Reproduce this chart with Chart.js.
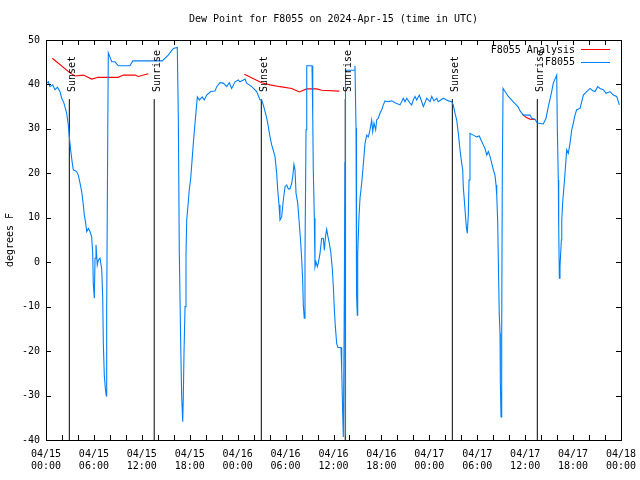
<!DOCTYPE html>
<html>
<head>
<meta charset="utf-8">
<title>Dew Point for F8055</title>
<script src="https://cdn.jsdelivr.net/npm/chart.js@4.4.1/dist/chart.umd.min.js"></script>
<style>
  html, body { margin: 0; padding: 0; background: #ffffff; }
  #wrap { width: 640px; height: 480px; }
</style>
</head>
<body>
<div id="wrap"><canvas id="dew-chart" width="640" height="480"></canvas></div>
<script>
// hours since 2024-04-15 00:00 UTC
const stationHours = [
  0.09, 0.29, 0.50, 0.84, 1.13, 1.42, 1.75, 1.97, 2.25, 2.59,
  2.79, 2.92, 3.09, 3.29, 3.42, 3.84, 4.04, 4.26, 4.47, 4.67,
  4.80, 4.97, 5.10, 5.30, 5.51, 5.72, 5.85, 5.92, 6.05, 6.14,
  6.26, 6.42, 6.55, 6.76, 6.97, 7.10, 7.18, 7.30, 7.43, 7.55,
  7.60, 7.73, 7.80, 8.23, 8.64, 9.05, 10.52, 10.86, 14.56, 15.31,
  15.94, 16.44, 16.57, 16.69, 16.87, 16.99, 17.12, 17.19, 17.28, 17.41,
  17.53, 17.62, 17.82, 17.94, 18.12, 18.45, 18.66, 18.95, 19.20, 19.57,
  19.82, 20.12, 20.62, 21.16, 21.38, 21.79, 22.20, 22.63, 22.95, 23.25,
  23.67, 24.08, 24.29, 24.71, 24.92, 25.13, 25.76, 26.38, 26.80, 27.01,
  27.21, 27.64, 27.84, 28.05, 28.26, 28.46, 28.68, 28.89, 29.01, 29.18,
  29.30, 29.51, 29.72, 29.93, 30.14, 30.34, 30.55, 30.77, 30.89, 31.05,
  31.18, 31.31, 31.52, 31.68, 31.89, 32.02, 32.14, 32.22, 32.34, 32.43,
  32.52, 32.56, 32.65, 33.31, 33.40, 33.47, 33.60, 33.68, 33.81, 33.97,
  34.10, 34.31, 34.52, 34.72, 34.85, 35.02, 35.15, 35.27, 35.44, 35.65,
  35.85, 35.98, 36.10, 36.23, 36.40, 36.56, 36.94, 37.03, 37.15, 37.23,
  37.32, 37.44, 37.48, 37.53, 38.57, 38.69, 38.82, 38.86, 38.91, 38.98,
  39.03, 39.19, 39.32, 39.53, 39.66, 39.95, 40.16, 40.36, 40.57, 40.78,
  40.91, 41.07, 41.28, 41.41, 41.61, 41.82, 42.04, 42.24, 42.45, 42.86,
  43.29, 43.70, 44.33, 44.74, 44.95, 45.17, 45.58, 45.79, 45.99, 46.21,
  46.42, 46.75, 47.05, 47.25, 47.67, 48.09, 48.30, 48.59, 48.92, 49.12,
  49.75, 50.38, 50.80, 51.00, 51.22, 51.43, 51.63, 51.84, 52.05, 52.18,
  52.25, 52.38, 52.50, 52.63, 52.75, 52.88, 52.97, 53.09, 53.51, 53.93,
  54.26, 54.47, 54.76, 54.97, 55.19, 55.39, 55.60, 55.81, 56.01, 56.22,
  56.35, 56.44, 56.56, 56.64, 56.76, 56.85, 56.89, 56.98, 57.06, 57.14,
  57.23, 57.48, 57.89, 58.52, 59.14, 59.35, 59.77, 60.61, 60.82, 61.23,
  61.52, 62.27, 62.61, 62.90, 63.32, 63.52, 63.95, 64.03, 64.15, 64.20,
  64.28, 64.36, 64.53, 64.58, 64.70, 64.86, 64.99, 65.20, 65.40, 65.62,
  65.83, 66.03, 66.24, 66.45, 66.87, 67.08, 67.28, 67.71, 68.12, 68.46,
  68.75, 69.08, 69.37, 69.79, 70.12, 70.62, 71.04, 71.46, 71.79
];
const stationDew = [
  40.3, 40.6, 39.5, 39.9, 38.8, 39.4, 38.4, 36.9, 35.8, 33.5,
  30.9, 28.2, 25.2, 22.3, 20.8, 20.4, 19.6, 17.8, 15.9, 12.9,
  10.6, 8.8, 6.9, 7.6, 6.9, 5.7, 2.0, -4.7, -8.1, 0.9,
  3.9, -0.6, 0.5, 0.9, -1.4, -7.8, -18.3, -25.4, -28.4, -30.1,
  -10.8, 28.2, 47.1, 45.1, 45.1, 44.2, 44.2, 45.3, 45.3, 46.6,
  48.1, 48.3, 32.7, 2.4, -18.6, -30.3, -35.9, -30.6, -20.5, -10.0,
  1.6, 9.5, 13.6, 16.3, 18.9, 26.8, 31.3, 37.2, 36.5, 37.2,
  36.5, 37.6, 38.4, 38.5, 39.5, 40.4, 40.3, 39.5, 40.4, 39.1,
  40.6, 41.0, 40.6, 41.0, 41.2, 40.3, 39.5, 38.4, 36.5, 36.5,
  35.4, 32.4, 30.5, 28.2, 26.4, 25.2, 23.7, 20.0, 16.3, 12.9,
  9.5, 10.2, 14.0, 17.0, 17.4, 16.5, 16.5, 17.8, 19.2, 22.0,
  20.8, 15.5, 13.3, 9.5, 4.6, 0.5, -4.0, -9.6, -12.6, 1.6,
  20.8, 29.8, 44.2, 44.2, 32.7, 20.8, 9.9, -1.0, 0.1, -1.0,
  -0.2, 2.0, 5.4, 5.4, 2.7, 6.1, 7.4, 6.1, 4.6, 2.4,
  -1.4, -5.5, -10.4, -14.5, -18.3, -19.2, -19.2, -24.3, -34.0, -39.3,
  -18.6, 22.5, -39.0, 43.2, 43.2, 44.2, 30.2, 2.0, -7.0, -11.9,
  2.0, 10.2, 14.4, 17.8, 20.4, 26.8, 28.6, 28.2, 29.8, 32.0,
  29.4, 31.3, 29.8, 32.0, 32.4, 33.5, 34.3, 35.4, 36.3, 36.1,
  36.3, 35.9, 35.4, 36.9, 36.1, 36.9, 35.8, 35.4, 36.5, 37.3,
  36.5, 37.6, 36.1, 35.0, 36.9, 36.1, 37.3, 36.3, 36.9, 36.1,
  36.9, 36.3, 36.1, 35.4, 33.5, 32.0, 29.0, 25.3, 22.3, 20.8,
  17.0, 14.0, 11.0, 8.0, 6.5, 10.6, 18.5, 29.0, 28.6, 28.2,
  28.4, 27.5, 26.4, 25.6, 24.1, 24.9, 23.8, 22.3, 20.8, 19.6,
  17.4, 15.1, 9.1, 0.1, -11.9, -16.0, -26.9, -34.8, -16.0, 20.8,
  39.1, 38.4, 37.3, 36.1, 34.9, 34.1, 33.1, 33.1, 32.4, 32.2,
  31.3, 31.1, 32.4, 35.0, 38.4, 40.3, 42.1, 29.8, 18.5, 7.6,
  -3.6, -1.0, 5.0, 9.5, 13.6, 17.0, 20.0, 25.3, 24.5, 26.8,
  29.8, 31.3, 33.1, 34.3, 34.6, 36.1, 37.6, 38.4, 39.1, 38.6,
  38.4, 39.5, 39.1, 38.8, 38.0, 38.4, 37.6, 37.3, 35.4
];

// analysis: null marks a gap between runs
const analysisHours = [
  0.79, 3.01, 3.63, 4.67, 5.72, 6.55, 9.05, 9.68, 11.14, 11.56, 12.81,
  18.0,
  24.83, 27.01, 28.05, 29.30, 30.77, 31.72, 32.65, 33.90, 34.52, 36.73,
  48.0,
  59.65, 60.10, 60.60, 61.20
];
const analysisDew = [
  45.9, 42.6, 41.9, 42.1, 41.2, 41.6, 41.6, 42.1, 42.1, 41.8, 42.4,
  null,
  42.3, 40.4, 39.9, 39.5, 39.1, 38.3, 39.0, 39.0, 38.7, 38.5,
  null,
  33.3, 32.6, 32.2, 32.1
];

const sunsetHours = [2.92, 26.96, 50.88];
const sunriseHours = [13.55, 37.47, 61.52];
const sunLineTop = 36.7;

// one label every 6 hours, minor ticks every 2
const xTickLabels = [
  ['04/15', '00:00'], ['04/15', '06:00'], ['04/15', '12:00'], ['04/15', '18:00'],
  ['04/16', '00:00'], ['04/16', '06:00'], ['04/16', '12:00'], ['04/16', '18:00'],
  ['04/17', '00:00'], ['04/17', '06:00'], ['04/17', '12:00'], ['04/17', '18:00'],
  ['04/18', '00:00']
];
const yTickValues = [-40, -30, -20, -10, 0, 10, 20, 30, 40, 50];

const FONT = '10px "DejaVu Sans Mono", "Liberation Mono", monospace';
Chart.defaults.font.family = '"DejaVu Sans Mono", "Liberation Mono", monospace';
Chart.defaults.font.size = 10;
Chart.defaults.color = '#000000';

const toPoints = (xs, ys) => xs.map((h, i) => ({ x: h, y: ys[i] }));

const sunLineSets = [...sunsetHours, ...sunriseHours].map(h => ({
  label: 'sun',
  data: [{ x: h, y: -40 }, { x: h, y: sunLineTop }],
  borderColor: '#000000',
  borderWidth: 1,
  pointRadius: 0
}));

// gnuplot-ish frame, inward ticks, x labels, sun labels, key and title
const gnuplotDecor = {
  id: 'gnuplotDecor',
  afterDatasetsDraw(chart) {
    const { ctx, chartArea: a, scales: { x, y } } = chart;
    ctx.save();
    ctx.strokeStyle = '#000000';
    ctx.lineWidth = 1;
    ctx.strokeRect(Math.round(a.left) + 0.5, Math.round(a.top) + 0.5,
      Math.round(a.right - a.left), Math.round(a.bottom - a.top));

    ctx.beginPath();
    for (let h = 0; h <= 72; h += 2) {
      const px = Math.round(x.getPixelForValue(h)) + 0.5;
      ctx.moveTo(px, a.bottom); ctx.lineTo(px, a.bottom - 5);
      ctx.moveTo(px, a.top); ctx.lineTo(px, a.top + 5);
    }
    yTickValues.forEach(v => {
      const py = Math.round(y.getPixelForValue(v)) + 0.5;
      ctx.moveTo(a.left, py); ctx.lineTo(a.left + 5, py);
      ctx.moveTo(a.right, py); ctx.lineTo(a.right - 5, py);
    });
    ctx.stroke();

    ctx.fillStyle = '#000000';
    ctx.font = FONT;

    // x tick labels, two lines each
    ctx.textAlign = 'center';
    ctx.textBaseline = 'middle';
    xTickLabels.forEach((lines, i) => {
      const px = x.getPixelForValue(i * 6);
      ctx.fillText(lines[0], px, a.bottom + 14);
      ctx.fillText(lines[1], px, a.bottom + 26);
    });

    ctx.textAlign = 'left';
    ctx.textBaseline = 'alphabetic';
    const topPx = y.getPixelForValue(sunLineTop);
    const sunLabel = (h, txt) => {
      ctx.save();
      ctx.translate(x.getPixelForValue(h) + 5.5, topPx - 7);
      ctx.rotate(-Math.PI / 2);
      ctx.fillText(txt, 0, 0);
      ctx.restore();
    };
    sunsetHours.forEach(h => sunLabel(h, 'Sunset'));
    sunriseHours.forEach(h => sunLabel(h, 'Sunrise'));

    // key
    ctx.textAlign = 'right';
    ctx.textBaseline = 'middle';
    ctx.fillText('F8055 Analysis', 575, 50);
    ctx.fillText('F8055', 575, 62.5);
    ctx.strokeStyle = '#ff0000';
    ctx.beginPath(); ctx.moveTo(581, 49.5); ctx.lineTo(610, 49.5); ctx.stroke();
    ctx.strokeStyle = '#0080ff';
    ctx.beginPath(); ctx.moveTo(581, 62.5); ctx.lineTo(610, 62.5); ctx.stroke();

    // title centred over the plot
    ctx.textAlign = 'center';
    ctx.fillText('Dew Point for F8055 on 2024-Apr-15 (time in UTC)', (a.left + a.right) / 2, 19);
    ctx.restore();
  }
};

new Chart(document.getElementById('dew-chart'), {
  type: 'line',
  data: {
    datasets: [
      {
        label: 'F8055',
        data: toPoints(stationHours, stationDew),
        borderColor: '#0080ff',
        borderWidth: 1.1,
        pointRadius: 0,
        tension: 0
      },
      {
        label: 'F8055 Analysis',
        data: toPoints(analysisHours, analysisDew),
        borderColor: '#ff0000',
        borderWidth: 1.1,
        pointRadius: 0,
        spanGaps: false,
        tension: 0
      },
      ...sunLineSets
    ]
  },
  options: {
    responsive: false,
    animation: false,
    devicePixelRatio: 1,
    layout: { padding: { top: 40, right: 19, left: 0, bottom: 0 } },
    scales: {
      x: {
        type: 'linear',
        min: 0,
        max: 72,
        grid: { display: false, drawTicks: false },
        border: { display: false },
        ticks: { display: false, stepSize: 6 },
        afterFit: scale => { scale.height = 40; }
      },
      y: {
        min: -40,
        max: 50,
        grid: { display: false, drawTicks: false },
        border: { display: false },
        ticks: { stepSize: 10, padding: 6 },
        title: {
          display: true,
          text: 'degrees F',
          font: { size: 10, lineHeight: 1.2 },
          padding: { top: 4, bottom: 0 }
        },
        afterFit: scale => { scale.width = 46; }
      }
    },
    plugins: {
      legend: { display: false },
      title: { display: false },
      tooltip: { enabled: false }
    }
  },
  plugins: [gnuplotDecor]
});
</script>
</body>
</html>
